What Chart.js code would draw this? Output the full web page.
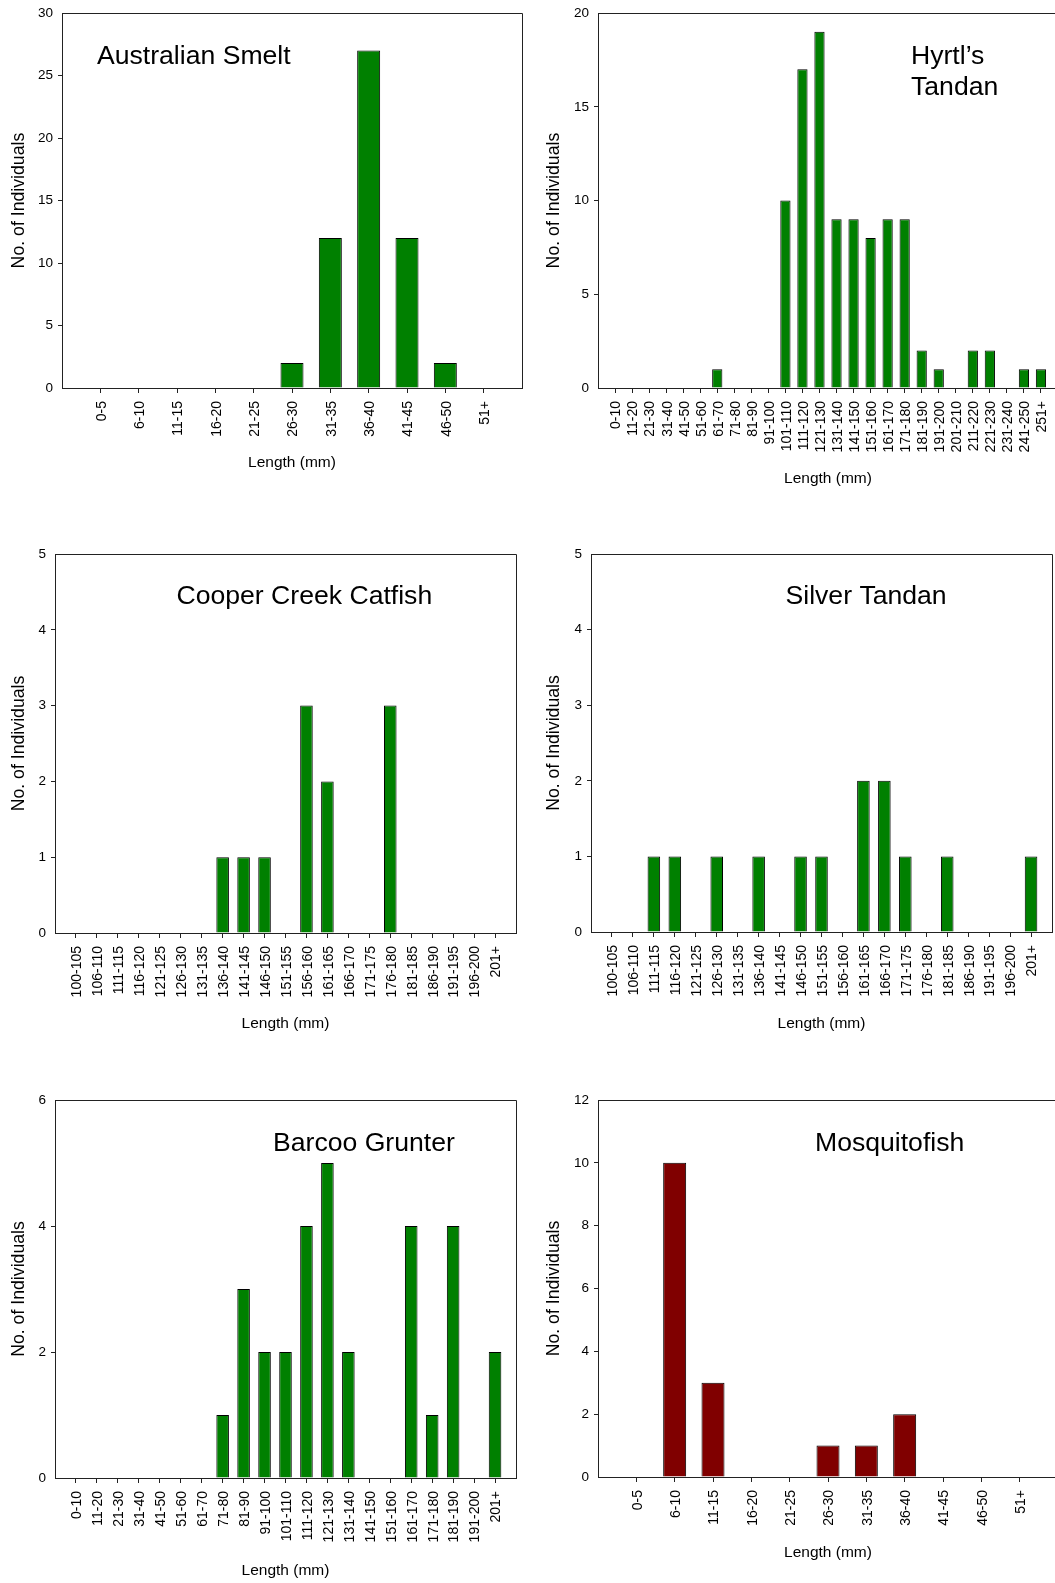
<!DOCTYPE html>
<html>
<head>
<meta charset="utf-8">
<script src="https://cdn.jsdelivr.net/npm/chart.js@4/dist/chart.umd.min.js"></script>
<style>
  html, body { margin: 0; padding: 0; background: #fff; overflow: hidden; }
  body { width: 1055px; height: 1583px; position: relative; }
  canvas { position: absolute; }
</style>
</head>
<body>
<canvas id="smelt"></canvas>
<canvas id="hyrtl"></canvas>
<canvas id="catfish"></canvas>
<canvas id="silver"></canvas>
<canvas id="grunter"></canvas>
<canvas id="mosquito"></canvas>
<script>
// length classes and counts, one pair per species
const smeltLengths = ['0-5', '6-10', '11-15', '16-20', '21-25', '26-30', '31-35', '36-40', '41-45', '46-50', '51+'];
const smeltCounts = [0, 0, 0, 0, 0, 2, 12, 27, 12, 2, 0];

const hyrtlLengths = ['0-10', '11-20', '21-30', '31-40', '41-50', '51-60', '61-70', '71-80', '81-90', '91-100',
  '101-110', '111-120', '121-130', '131-140', '141-150', '151-160', '161-170', '171-180', '181-190', '191-200',
  '201-210', '211-220', '221-230', '231-240', '241-250', '251+'];
const hyrtlCounts = [0, 0, 0, 0, 0, 0, 1, 0, 0, 0, 10, 17, 19, 9, 9, 8, 9, 9, 2, 1, 0, 2, 2, 0, 1, 1];

const catfishLengths = ['100-105', '106-110', '111-115', '116-120', '121-125', '126-130', '131-135', '136-140',
  '141-145', '146-150', '151-155', '156-160', '161-165', '166-170', '171-175', '176-180', '181-185', '186-190',
  '191-195', '196-200', '201+'];
const catfishCounts = [0, 0, 0, 0, 0, 0, 0, 1, 1, 1, 0, 3, 2, 0, 0, 3, 0, 0, 0, 0, 0];

const silverLengths = ['100-105', '106-110', '111-115', '116-120', '121-125', '126-130', '131-135', '136-140',
  '141-145', '146-150', '151-155', '156-160', '161-165', '166-170', '171-175', '176-180', '181-185', '186-190',
  '191-195', '196-200', '201+'];
const silverCounts = [0, 0, 1, 1, 0, 1, 0, 1, 0, 1, 1, 0, 2, 2, 1, 0, 1, 0, 0, 0, 1];

const grunterLengths = ['0-10', '11-20', '21-30', '31-40', '41-50', '51-60', '61-70', '71-80', '81-90', '91-100',
  '101-110', '111-120', '121-130', '131-140', '141-150', '151-160', '161-170', '171-180', '181-190', '191-200', '201+'];
const grunterCounts = [0, 0, 0, 0, 0, 0, 0, 1, 3, 2, 2, 4, 5, 2, 0, 0, 4, 1, 4, 0, 2];

const mosquitoLengths = ['0-5', '6-10', '11-15', '16-20', '21-25', '26-30', '31-35', '36-40', '41-45', '46-50', '51+'];
const mosquitoCounts = [0, 10, 3, 0, 0, 1, 1, 2, 0, 0, 0];

const GREEN = '#008000';
const MAROON = '#800000';
const LINE = '#222';
const FONT = "'Liberation Sans', Arial, Helvetica, sans-serif";

Chart.defaults.font.family = FONT;
Chart.defaults.color = '#000';

const crisp = v => Math.round(v - 0.5) + 0.5;

// closes the plot box (top and right edges)
const framePlugin = {
  id: 'frame',
  afterDatasetsDraw(chart) {
    const { ctx, chartArea: a } = chart;
    ctx.save();
    ctx.strokeStyle = LINE;
    ctx.lineWidth = 1;
    ctx.beginPath();
    ctx.moveTo(crisp(a.left), crisp(a.top));
    ctx.lineTo(crisp(a.right), crisp(a.top));
    ctx.lineTo(crisp(a.right), crisp(a.bottom));
    ctx.stroke();
    ctx.restore();
  }
};

// species name written inside the plot
const panelLabel = {
  id: 'panelLabel',
  afterDraw(chart, args, opts) {
    const { ctx, chartArea: a } = chart;
    ctx.save();
    ctx.font = '26.6px ' + FONT;
    ctx.fillStyle = '#000';
    ctx.textBaseline = 'alphabetic';
    opts.lines.forEach((t, i) => ctx.fillText(t, a.left + opts.dx, a.top + opts.dy + i * 30.7));
    ctx.restore();
  }
};

function makeChart(id, lengths, counts, color, yMax, yStep, box, label) {
  const yTitleSize = 17.7, xTitleSize = 15.5;
  const padTop = Math.min(14, box.T), padRight = 14;
  const left = Math.round(box.yTitleX - yTitleSize * 0.6);
  const top = box.T - padTop;
  const bottom = Math.round(box.xTitleY + xTitleSize * 0.6);
  const canvas = document.getElementById(id);
  canvas.width = Math.round(box.R + padRight - left);
  canvas.height = bottom - top;
  canvas.style.left = left + 'px';
  canvas.style.top = top + 'px';
  const n = lengths.length;

  new Chart(canvas, {
    type: 'bar',
    data: {
      datasets: [{
        data: counts.map((v, i) => ({ x: i, y: v })),
        backgroundColor: color,
        borderColor: '#000',
        borderWidth: 1,
        barPercentage: 0.6,
        categoryPercentage: 1
      }]
    },
    options: {
      responsive: false,
      animation: false,
      layout: { padding: { left: 0, top: padTop, right: canvas.width - (box.R - left), bottom: 0 } },
      plugins: {
        legend: { display: false },
        tooltip: { enabled: false },
        panelLabel: label
      },
      scales: {
        x: {
          type: 'linear',
          min: -1,
          max: n,
          offset: false,
          afterBuildTicks: s => { s.ticks = s.ticks.filter(t => t.value >= 0 && t.value < n); },
          afterFit: s => { s.height = bottom - box.B; },
          ticks: {
            stepSize: 1, autoSkip: false, minRotation: 90, maxRotation: 90, padding: 8, labelOffset: 1.5,
            font: { size: 14 }, color: '#000',
            callback: v => lengths[v]
          },
          grid: { drawOnChartArea: false, drawTicks: true, tickLength: 5, color: LINE, offset: false },
          border: { display: true, color: LINE, width: 1 },
          title: { display: true, text: 'Length (mm)', font: { size: xTitleSize }, padding: 0, color: '#000' }
        },
        y: {
          min: 0,
          max: yMax,
          afterFit: s => { s.width = box.L - left; },
          ticks: { stepSize: yStep, padding: 5, font: { size: 13.5 }, color: '#000' },
          grid: {
            drawOnChartArea: false, tickLength: 4, color: LINE,
            tickColor: c => (c.tick && (c.tick.value === 0 || c.tick.value === yMax)) ? 'rgba(0,0,0,0)' : LINE
          },
          border: { display: true, color: LINE, width: 1 },
          title: { display: true, text: 'No. of Individuals', font: { size: yTitleSize }, padding: 0, color: '#000' }
        }
      }
    },
    plugins: [framePlugin, panelLabel]
  });
}

makeChart('smelt', smeltLengths, smeltCounts, GREEN, 30, 5,
  { L: 62, T: 10, R: 522, B: 388, yTitleX: 18.5, xTitleY: 463 },
  { lines: ['Australian Smelt'], dx: 35, dy: 51 });

makeChart('hyrtl', hyrtlLengths, hyrtlCounts, GREEN, 20, 5,
  { L: 598, T: 10, R: 1058, B: 388, yTitleX: 554, xTitleY: 479 },
  { lines: ['Hyrtl’s', 'Tandan'], dx: 313, dy: 51 });

makeChart('catfish', catfishLengths, catfishCounts, GREEN, 5, 1,
  { L: 55, T: 554, R: 516, B: 933, yTitleX: 18.5, xTitleY: 1024 },
  { lines: ['Cooper Creek Catfish'], dx: 121.5, dy: 50.3 });

makeChart('silver', silverLengths, silverCounts, GREEN, 5, 1,
  { L: 591, T: 554, R: 1052, B: 932, yTitleX: 554, xTitleY: 1024 },
  { lines: ['Silver Tandan'], dx: 194.5, dy: 50.3 });

makeChart('grunter', grunterLengths, grunterCounts, GREEN, 6, 2,
  { L: 55, T: 1100, R: 516, B: 1478, yTitleX: 18.5, xTitleY: 1570.5 },
  { lines: ['Barcoo Grunter'], dx: 218, dy: 51 });

makeChart('mosquito', mosquitoLengths, mosquitoCounts, MAROON, 12, 2,
  { L: 598, T: 1100, R: 1058, B: 1477, yTitleX: 554, xTitleY: 1552.5 },
  { lines: ['Mosquitofish'], dx: 217, dy: 51 });
</script>
</body>
</html>
